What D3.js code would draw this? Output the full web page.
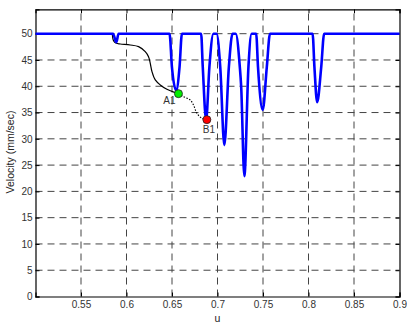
<!DOCTYPE html>
<html><head><meta charset="utf-8">
<script src="https://cdn.jsdelivr.net/npm/d3@7"></script>
<style>body{margin:0;background:#fff}svg{display:block}text{font-family:"Liberation Sans",Arial,sans-serif}</style>
</head><body><svg id="c" width="407" height="325"></svg>
<script>
// ---- data ----
const xTicks = [0.55, 0.6, 0.65, 0.7, 0.75, 0.8, 0.85, 0.9];
const yTicks = [0, 5, 10, 15, 20, 25, 30, 35, 40, 45, 50];
const blueU = [0.5, 0.5852, 0.5888, 0.5913, 0.6473, 0.6499, 0.6546, 0.6583, 0.6609, 0.682, 0.6838, 0.6875, 0.6911, 0.6955, 0.6990, 0.7030, 0.7075, 0.7125, 0.7165, 0.7200, 0.7245, 0.7260, 0.7295, 0.7340, 0.7375, 0.7425, 0.7445, 0.7497, 0.7542, 0.7577, 0.8045, 0.8065, 0.8095, 0.8140, 0.8172, 0.9];
const blueV = [50, 50, 48.36, 50, 50, 43.7, 39.2, 43.7, 50, 50, 43.7, 33.6, 43.7, 50, 50, 43.7, 28.8, 43.7, 50, 50, 43.7, 40, 22.9, 43.7, 50, 50, 43.7, 35.5, 43.7, 50, 50, 43.7, 36.96, 43.7, 50, 50];
const pathU = [0.5844, 0.5859, 0.5888, 0.5932, 0.6042, 0.6133, 0.6206, 0.6242, 0.6261, 0.6280, 0.6316, 0.6371, 0.6444, 0.6535, 0.6571];
const pathV = [49.89, 48.61, 48.17, 48.04, 47.85, 47.53, 46.58, 45.63, 44.37, 42.78, 41.20, 40.25, 39.43, 38.78, 38.59];
const dotU = [0.6571, 0.6626, 0.6699, 0.6736, 0.6773, 0.6828, 0.6883];
const dotV = [38.59, 38.02, 37.40, 36.45, 34.87, 33.92, 33.65];
const pointNames = ["A1", "B1"];
const pointU = [0.6571, 0.6883];
const pointV = [38.59, 33.65];
const pointColors = ["#00ee00", "#ff0000"];

// ---- layout ----
const L = 35.5, R = 399.5, T = 9.3, B = 296.5;
const x = d3.scaleLinear().domain([0.5, 0.9]).range([L, R]);
const y = d3.scaleLinear().domain([0, 54.64]).range([B, T]);
const svg = d3.select("#c");

// grid
const g = svg.append("g");
g.selectAll(".vg").data(xTicks.filter(d => d < 0.9)).join("line")
  .attr("x1", d => x(d)).attr("x2", d => x(d)).attr("y1", B).attr("y2", T)
  .attr("stroke", "#444").attr("stroke-width", 1).attr("stroke-dasharray", "7,5");
g.selectAll(".hg").data(yTicks.filter(d => d > 0)).join("line")
  .attr("x1", L).attr("x2", R).attr("y1", d => y(d)).attr("y2", d => y(d))
  .attr("stroke", "#444").attr("stroke-width", 1).attr("stroke-dasharray", "7,5");

// axes (inward ticks)
const ax = svg.append("g");
ax.append("g").attr("transform", `translate(0,${B})`)
  .call(d3.axisBottom(x).tickValues(xTicks).tickSize(-4).tickPadding(4).tickFormat(d => String(d)));
ax.append("g").attr("transform", `translate(0,${T})`)
  .call(d3.axisTop(x).tickValues(xTicks).tickSize(-4).tickFormat(""));
ax.append("g").attr("transform", `translate(${L},0)`)
  .call(d3.axisLeft(y).tickValues(yTicks).tickSize(-4).tickPadding(3).tickFormat(d => String(d)));
ax.append("g").attr("transform", `translate(${R},0)`)
  .call(d3.axisRight(y).tickValues(yTicks).tickSize(-4).tickFormat(""));
ax.selectAll(".domain").attr("stroke", "#000").attr("stroke-width", 1.2);
ax.selectAll(".tick line").attr("stroke", "#000");
ax.selectAll(".tick text").attr("font-size", 10).attr("fill", "#333").attr("font-family", "Liberation Sans, Arial, sans-serif");

// black path
const line = d3.line().x(d => x(d[0])).y(d => y(d[1]));
svg.append("path").datum(d3.zip(pathU, pathV))
  .attr("d", line.curve(d3.curveCatmullRom)).attr("fill", "none").attr("stroke", "#000").attr("stroke-width", 1.2);
svg.append("path").datum(d3.zip(dotU, dotV))
  .attr("d", line.curve(d3.curveCatmullRom)).attr("fill", "none").attr("stroke", "#000").attr("stroke-width", 1.1).attr("stroke-dasharray", "1.5,1.5");

// blue line
svg.append("path").datum(d3.zip(blueU, blueV))
  .attr("d", d3.line().x(d => x(d[0])).y(d => y(d[1])).curve(d3.curveMonotoneX))
  .attr("fill", "none").attr("stroke", "#0000ff").attr("stroke-width", 2.6).attr("stroke-linejoin", "round");

// points
svg.selectAll(".pt").data(pointNames).join("circle")
  .attr("cx", (d, i) => x(pointU[i])).attr("cy", (d, i) => y(pointV[i])).attr("r", 4)
  .attr("fill", (d, i) => pointColors[i]).attr("stroke", "#222").attr("stroke-width", 0.8);
svg.selectAll(".pl").data(pointNames).join("text")
  .attr("x", (d, i) => x(pointU[i]) + (i === 0 ? -9 : 2)).attr("y", (d, i) => y(pointV[i]) + (i === 0 ? 10.5 : 13))
  .attr("text-anchor", "middle").attr("font-size", 10).attr("fill", "#333").text(d => d);

// axis titles
svg.append("text").attr("x", (L + R) / 2).attr("y", 322).attr("text-anchor", "middle")
  .attr("font-size", 10.5).attr("fill", "#222").text("u");
svg.append("text").attr("transform", "translate(14,152) rotate(-90)").attr("text-anchor", "middle")
  .attr("font-size", 10.5).attr("fill", "#222").text("Velocity (mm/sec)");
</script></body></html>
